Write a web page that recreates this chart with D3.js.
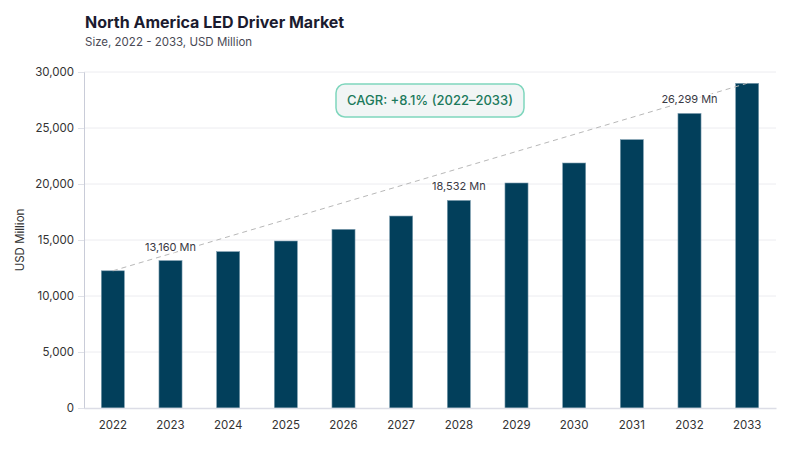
<!DOCTYPE html>
<html>
<head>
<meta charset="utf-8">
<script src="https://cdn.jsdelivr.net/npm/d3@7"></script>
<style>
body { margin: 0; background: #fff; }
text { font-family: Inter, "Noto Sans", sans-serif; }
</style>
</head>
<body>
<svg id="chart" width="800" height="450"></svg>
<script>
var years = ["2022","2023","2024","2025","2026","2027","2028","2029","2030","2031","2032","2033"];
var values = [12250, 13160, 13960, 14910, 15950, 17140, 18532, 20090, 21875, 23960, 26299, 28990];
var yTicks = [0, 5000, 10000, 15000, 20000, 25000, 30000];
var labelledYears = ["2023", "2028", "2032"];
var cagrText = "CAGR: +8.1% (2022\u20132033)";

var MARGIN = {left: 84, right: 24, top: 72, bottom: 42};
var W = 800, H = 450;

var svg = d3.select("#chart");

var x = d3.scaleBand()
    .domain(years)
    .range([MARGIN.left, W - MARGIN.right])
    .paddingInner(0.6)
    .paddingOuter(0.3);

var y = d3.scaleLinear()
    .domain([0, 30000])
    .range([H - MARGIN.bottom, MARGIN.top]);

// title
svg.append("text")
    .attr("x", 85).attr("y", 28)
    .style("font-size", "16px").style("font-weight", "700")
    .style("fill", "#1b1b2f")
    .text("North America LED Driver Market");
svg.append("text")
    .attr("x", 85).attr("y", 46)
    .style("font-size", "11.5px")
    .style("fill", "#4a4a55")
    .text("Size, 2022 - 2033, USD Million");

// grid lines
svg.append("g")
    .selectAll("line")
    .data(yTicks.filter(function(d){ return d > 0; }))
    .join("line")
    .attr("x1", MARGIN.left).attr("x2", W - MARGIN.right)
    .attr("y1", function(d){ return y(d); })
    .attr("y2", function(d){ return y(d); })
    .style("stroke", "#ececf0");

// y axis
var yAxis = svg.append("g")
    .attr("transform", "translate(" + MARGIN.left + ",0)")
    .call(d3.axisLeft(y).tickValues(yTicks).tickSize(6).tickPadding(4).tickFormat(d3.format(",")));
yAxis.select(".domain").style("stroke", "#c9ccd8");
yAxis.selectAll(".tick line").style("stroke", "#dfe1e8");
yAxis.selectAll(".tick text").style("font-size", "11.5px").style("fill", "#333");

svg.append("text")
    .attr("transform", "translate(24," + y(15000) + ") rotate(-90)")
    .attr("text-anchor", "middle")
    .style("font-size", "11.5px").style("fill", "#333")
    .text("USD Million");

// bars
svg.append("g")
    .selectAll("rect")
    .data(values)
    .join("rect")
    .attr("x", function(d, i){ return x(years[i]); })
    .attr("y", function(d){ return y(d); })
    .attr("width", x.bandwidth())
    .attr("height", function(d){ return y(0) - y(d); })
    .style("fill", "#023f5b")
    .style("stroke", "#7e9db0")
    .style("stroke-width", 0.6);

// x axis
var xAxis = svg.append("g")
    .attr("transform", "translate(0," + y(0) + ")")
    .call(d3.axisBottom(x).tickSize(0).tickPadding(13));
xAxis.select(".domain").style("stroke", "#dcdde6").style("stroke-width", 1.5);
xAxis.selectAll(".tick text").style("font-size", "11.5px").style("fill", "#333");

// trend line
var first = 0, last = values.length - 1;
svg.append("line")
    .attr("x1", x(years[first]) + x.bandwidth() / 2)
    .attr("y1", y(values[first]))
    .attr("x2", x(years[last]) + x.bandwidth() / 2)
    .attr("y2", y(values[last]))
    .style("stroke", "#b8b8b8")
    .style("stroke-width", 1)
    .style("stroke-dasharray", "5,4");

// value labels
svg.append("g")
    .selectAll("text")
    .data(labelledYears)
    .join("text")
    .attr("x", function(d){ return x(d) + x.bandwidth() / 2; })
    .attr("y", function(d){ return y(values[years.indexOf(d)]) - 10; })
    .attr("text-anchor", "middle")
    .style("font-size", "11px")
    .style("fill", "#3a3a45")
    .style("paint-order", "stroke")
    .style("stroke", "#fff")
    .style("stroke-width", 3)
    .text(function(d){ return d3.format(",")(values[years.indexOf(d)]) + " Mn"; });

// CAGR box
var box = svg.append("g").attr("transform", "translate(430,100)");
box.append("rect")
    .attr("x", -94).attr("y", -16)
    .attr("width", 188).attr("height", 33)
    .attr("rx", 9)
    .style("fill", "#f1f5f5")
    .style("stroke", "#7fd6bd")
    .style("stroke-width", 1.5);
box.append("text")
    .attr("text-anchor", "middle")
    .attr("dy", "0.35em")
    .style("font-size", "13px").style("font-weight", "500")
    .style("fill", "#1c7a5c")
    .text(cagrText);
</script>
</body>
</html>
